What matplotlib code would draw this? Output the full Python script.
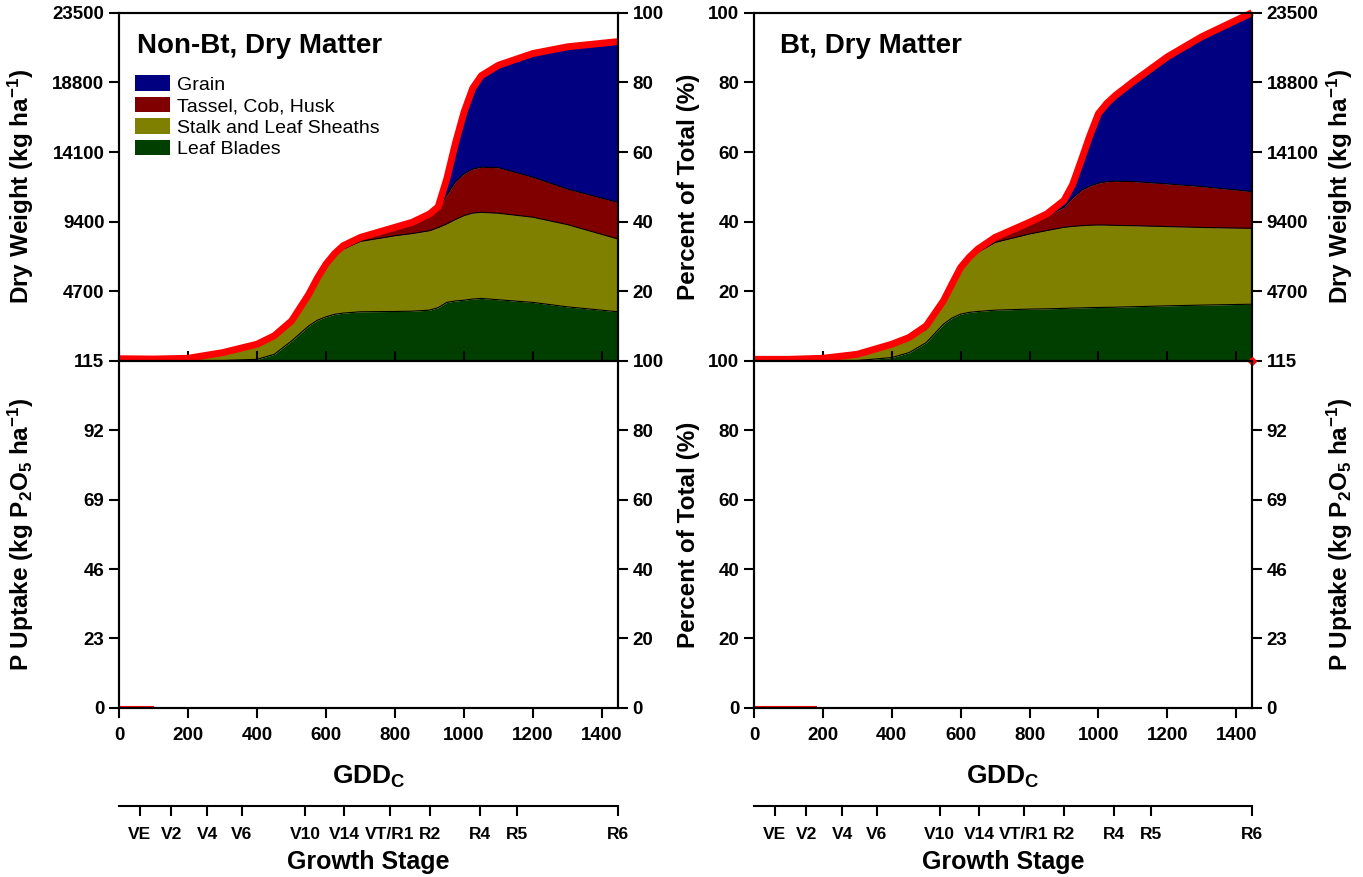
import matplotlib
matplotlib.use('Agg')
import matplotlib.pyplot as plt
from matplotlib.patches import Patch

plt.rcParams['font.family'] = ['Liberation Sans', 'DejaVu Sans']
plt.rcParams['font.weight'] = 'bold'
plt.rcParams['axes.labelweight'] = 'bold'
plt.rcParams['mathtext.fontset'] = 'custom'
plt.rcParams['mathtext.rm'] = 'Liberation Sans:bold'
plt.rcParams['mathtext.bf'] = 'Liberation Sans:bold'
plt.rcParams['mathtext.default'] = 'bf'

# GDD grid
gdd = [0, 100, 200, 300, 400, 450, 500, 550, 575, 600, 625, 650, 700, 800, 850,
       900, 925, 950, 975, 1000, 1025, 1050, 1100, 1200, 1300, 1446]

# Non-Bt dry matter, cumulative tops (kg/ha)
nonbt_leaf = [0, 0, 10, 30, 110, 450, 1350, 2370, 2750, 2980, 3150, 3230, 3320, 3340, 3360,
              3430, 3600, 3950, 4050, 4100, 4180, 4220, 4130, 3950, 3650, 3320]
nonbt_stalk = [120, 110, 160, 500, 1050, 1600, 2550, 4300, 5400, 6430, 7100, 7550, 8070, 8450, 8600,
               8790, 9000, 9250, 9550, 9810, 9980, 10030, 9970, 9700, 9200, 8230]
nonbt_tassel = [120, 110, 160, 500, 1050, 1600, 2550, 4300, 5400, 6430, 7100, 7650, 8250, 8950, 9300,
                9800, 10250, 11200, 12100, 12630, 12950, 13080, 13040, 12400, 11600, 10700]
nonbt_total = [150, 130, 180, 560, 1130, 1700, 2700, 4500, 5600, 6540, 7250, 7780, 8340, 9020, 9360,
               9920, 10400, 12300, 14700, 16800, 18400, 19250, 19960, 20750, 21200, 21550]

# Bt dry matter, cumulative tops (kg/ha)
bt_leaf = [0, 0, 10, 30, 230, 560, 1240, 2480, 2900, 3160, 3280, 3340, 3430, 3500, 3520,
           3550, 3570, 3580, 3600, 3610, 3620, 3630, 3660, 3720, 3770, 3830]
bt_stalk = [100, 100, 160, 420, 1050, 1480, 2140, 3950, 5100, 6200, 6850, 7330, 8000, 8570, 8800,
            9020, 9080, 9130, 9160, 9180, 9170, 9150, 9130, 9070, 9010, 8950]
bt_tassel = [100, 100, 160, 420, 1050, 1480, 2140, 3950, 5100, 6200, 6850, 7400, 8250, 9250, 9800,
             10370, 11000, 11500, 11800, 12000, 12100, 12130, 12110, 11950, 11770, 11430]
bt_total = [110, 110, 180, 450, 1130, 1580, 2370, 4060, 5200, 6310, 7000, 7550, 8340, 9360, 9920,
            10830, 11900, 13530, 15200, 16690, 17400, 17930, 18830, 20520, 21880, 23500]

# P uptake panels (almost empty in the original)
p_line_left_gdd = [0, 100]
p_line_left = [0.3, 0.3]
p_line_right_gdd = [0, 180]
p_line_right = [0.3, 0.3]
p_bar_gdd = 1444
p_parts = [15, 5, 4, 91]   # leaf, stalk, tassel, grain
p_end_total = 115

stage_gdd = [60, 152, 256, 356, 539, 653, 784, 900, 1046, 1152, 1446]
stage_labels = ['VE', 'V2', 'V4', 'V6', 'V10', 'V14', 'VT/R1', 'R2', 'R4', 'R5', 'R6']

dw_ticks = [4700, 9400, 14100, 18800, 23500]
pct_ticks_top = [20, 40, 60, 80, 100]
pct_ticks = [0, 20, 40, 60, 80, 100]
p_ticks = [0, 23, 46, 69, 92, 115]
gdd_ticks = [0, 200, 400, 600, 800, 1000, 1200, 1400]

c_grain = '#000080'
c_tassel = '#800000'
c_stalk = '#808000'
c_leaf = '#003f00'
parts = ['Grain', 'Tassel, Cob, Husk', 'Stalk and Leaf Sheaths', 'Leaf Blades']

XMAX = 1446
fig = plt.figure(figsize=(13.63, 8.77), dpi=100)

cols = [(0.0873, 0.3661), (0.5532, 0.3654)]
top_b, top_h = 0.5884, 0.3971
bot_b, bot_h = 0.1930, 0.3954
dw_label = 'Dry Weight (kg ha$^{-1}$)'
pct_label = 'Percent of Total (%)'
p_label = 'P Uptake (kg P$_2$O$_5$ ha$^{-1}$)'
lab_fs = 17.5
tick_fs = 13.5
LEFT_LX = -0.166   # right edge of left-hand labels (axes fraction)
MID_LX = -0.108    # right edge of the shared middle label
RIGHT_LX = 1.147   # left edge of right-hand labels


def style(ax):
    for s in ax.spines.values():
        s.set_linewidth(1.5)
    ax.tick_params(labelsize=tick_fs, width=1.5, length=7)


def stack(ax, leaf, stalk, tassel, total):
    ax.fill_between(gdd, 0, leaf, color=c_leaf, lw=0)
    ax.fill_between(gdd, leaf, stalk, color=c_stalk, lw=0)
    ax.fill_between(gdd, stalk, tassel, color=c_tassel, lw=0)
    ax.fill_between(gdd, tassel, total, color=c_grain, lw=0)
    for y in (leaf, stalk, tassel):
        ax.plot(gdd, y, color='black', lw=0.8)
    ax.plot(gdd, total, color='red', lw=5, solid_capstyle='butt', clip_on=False, zorder=5)


for i, (x0, w) in enumerate(cols):
    left_side = (i == 0)
    # top panel: dry matter
    ax = fig.add_axes([x0, top_b, w, top_h])
    if left_side:
        stack(ax, nonbt_leaf, nonbt_stalk, nonbt_tassel, nonbt_total)
    else:
        stack(ax, bt_leaf, bt_stalk, bt_tassel, bt_total)
    ax.set_xlim(0, XMAX)
    ax.set_ylim(0, 23500)
    ax.set_xticks(gdd_ticks)
    ax.set_xticklabels([])
    ax.set_yticks(dw_ticks)
    style(ax)
    ax.tick_params(axis='x', direction='in', length=7)
    tw = ax.twinx()
    tw.set_ylim(0, 100)
    tw.set_yticks(pct_ticks_top)
    style(tw)
    if left_side:
        ax.set_ylabel(dw_label, fontsize=lab_fs)
        ax.yaxis.set_label_coords(LEFT_LX, 0.5)
        ax.text(0.036, 0.905, 'Non-Bt, Dry Matter', transform=ax.transAxes,
                fontsize=20, va='center', ha='left')
        handles = [Patch(facecolor=c, edgecolor='none') for c in
                   (c_grain, c_tassel, c_stalk, c_leaf)]
        ax.legend(handles, parts, loc='upper left', bbox_to_anchor=(-0.002, 0.87),
                  frameon=False, handlelength=1.75, handleheight=0.85,
                  labelspacing=0.15, handletextpad=0.4, prop={'size': 14, 'weight': 'normal'})
    else:
        ax.yaxis.tick_right()
        tw.yaxis.tick_left()
        ax.set_ylabel(dw_label, fontsize=lab_fs)
        ax.yaxis.set_label_position('right')
        ax.yaxis.set_label_coords(RIGHT_LX, 0.5)
        tw.set_ylabel(pct_label, fontsize=lab_fs)
        tw.yaxis.set_label_position('left')
        tw.yaxis.set_label_coords(MID_LX, 0.5)
        ax.text(0.052, 0.905, 'Bt, Dry Matter', transform=ax.transAxes,
                fontsize=20, va='center', ha='left')

    # bottom panel: P uptake
    bx = fig.add_axes([x0, bot_b, w, bot_h])
    bx.set_xlim(0, XMAX)
    bx.set_ylim(0, 115)
    bx.set_xticks(gdd_ticks)
    bx.set_yticks(p_ticks)
    style(bx)
    bx.tick_params(axis='x', pad=7)
    bx.set_xlabel('GDD$_C$', fontsize=19, labelpad=14)
    bt = bx.twinx()
    bt.set_ylim(0, 100)
    bt.set_yticks(pct_ticks)
    style(bt)
    if left_side:
        bx.plot(p_line_left_gdd, p_line_left, color='red', lw=1.5, clip_on=False)
        bx.set_ylabel(p_label, fontsize=lab_fs)
        bx.yaxis.set_label_coords(LEFT_LX, 0.5)
    else:
        bx.plot(p_line_right_gdd, p_line_right, color='red', lw=1.5, clip_on=False)
        bottom = 0
        for val, c in zip(p_parts, (c_leaf, c_stalk, c_tassel, c_grain)):
            bx.bar(p_bar_gdd, val, bottom=bottom, width=3, color=c, lw=0)
            bottom += val
        bx.plot([XMAX], [p_end_total], marker='D', ms=4, color='red', clip_on=False, zorder=6)
        bx.yaxis.tick_right()
        bt.yaxis.tick_left()
        bx.set_ylabel(p_label, fontsize=lab_fs)
        bx.yaxis.set_label_position('right')
        bx.yaxis.set_label_coords(RIGHT_LX, 0.5)
        bt.set_ylabel(pct_label, fontsize=lab_fs)
        bt.yaxis.set_label_position('left')
        bt.yaxis.set_label_coords(MID_LX, 0.5)

    # growth stage axis
    sx = fig.add_axes([x0, 0.081, w, 0.0001])
    sx.set_xlim(0, XMAX)
    sx.set_yticks([])
    for s in ('left', 'right', 'top'):
        sx.spines[s].set_visible(False)
    sx.spines['bottom'].set_linewidth(1.5)
    sx.set_xticks(stage_gdd)
    sx.set_xticklabels(stage_labels)
    sx.tick_params(axis='x', labelsize=12.5, width=1.5, length=7, pad=8)
    sx.set_xlabel('Growth Stage', fontsize=18, labelpad=6)

fig.savefig('out.png', dpi=100)
